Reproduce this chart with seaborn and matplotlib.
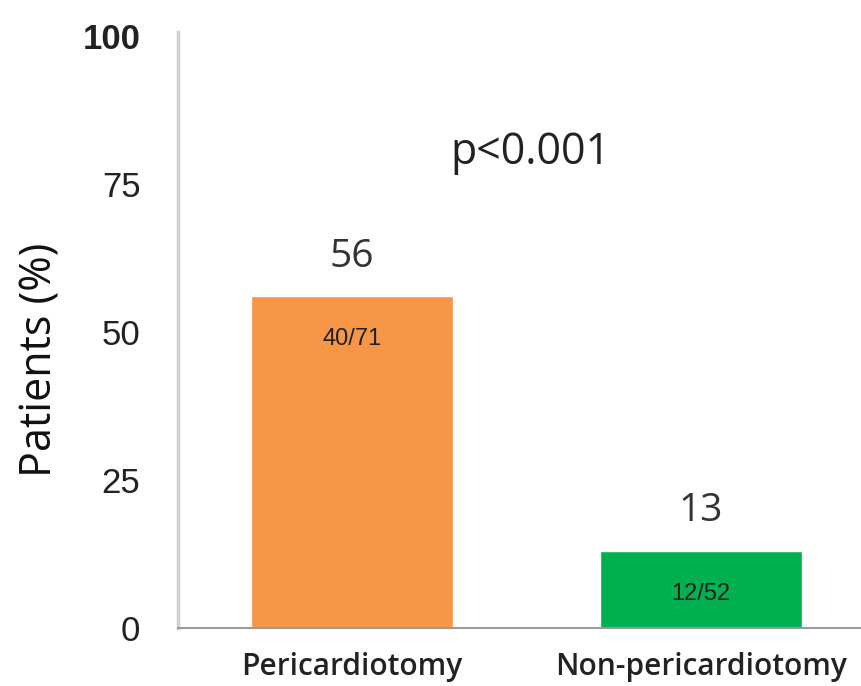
import matplotlib
matplotlib.use("Agg")
import matplotlib.pyplot as plt
import seaborn as sns
import pandas as pd

groups = ["Pericardiotomy", "Non-pericardiotomy"]
percent = [56, 13]
counts = ["40/71", "12/52"]
bar_colors = ["#F79646", "#00B050"]
y_ticks = [0, 25, 50, 75, 100]

df = pd.DataFrame({"group": groups, "percent": percent})

sns.set_style("white")
plt.rcParams["font.family"] = ["Open Sans", "DejaVu Sans"]

fig = plt.figure(figsize=(8.61, 6.86), dpi=100)
ax = fig.add_axes([0.2067, 0.0845, 0.7933, 0.8685])

sns.barplot(data=df, x="group", y="percent", hue="group", palette=bar_colors,
            width=0.58, legend=False, ax=ax, saturation=1)

ax.set_ylim(0, 100.6)
ax.set_xlim(-0.5, 1.46)
ax.set_yticks(y_ticks)
ax.set_yticklabels([str(t) for t in y_ticks], fontsize=25, color="#222222",
                   family="Liberation Sans")
ax.get_yticklabels()[-1].set_fontweight("bold")
ax.tick_params(axis="y", length=0, pad=27)
ax.tick_params(axis="x", length=0, pad=17)
for lab in ax.get_xticklabels():
    lab.set_fontsize(21.5)
    lab.set_fontweight("semibold")
    lab.set_color("#222222")

ax.set_xlabel("")
ax.set_ylabel("Patients (%)", fontsize=31, color="#111111", fontweight="medium")
ax.yaxis.label.set_verticalalignment("center")
ax.yaxis.set_label_coords(-0.202, 0.45)

for s in ["top", "right"]:
    ax.spines[s].set_visible(False)
ax.spines["left"].set_color("#d0d0d0")
ax.spines["left"].set_linewidth(2.5)
ax.spines["bottom"].set_color("#9a9a9a")
ax.spines["bottom"].set_linewidth(1.5)

for i, (v, c) in enumerate(zip(percent, counts)):
    ax.text(i, v + 6.7, str(v), ha="center", va="center", fontsize=28, color="#333333")
    ax.text(i, v - 7.2, c, ha="center", va="center", fontsize=17, color="#222222",
            family="Liberation Sans")

ax.text(0.51, 80.3, "p<0.001", ha="center", va="center", fontsize=31, color="#222222")

fig.savefig("out.png", dpi=100)
